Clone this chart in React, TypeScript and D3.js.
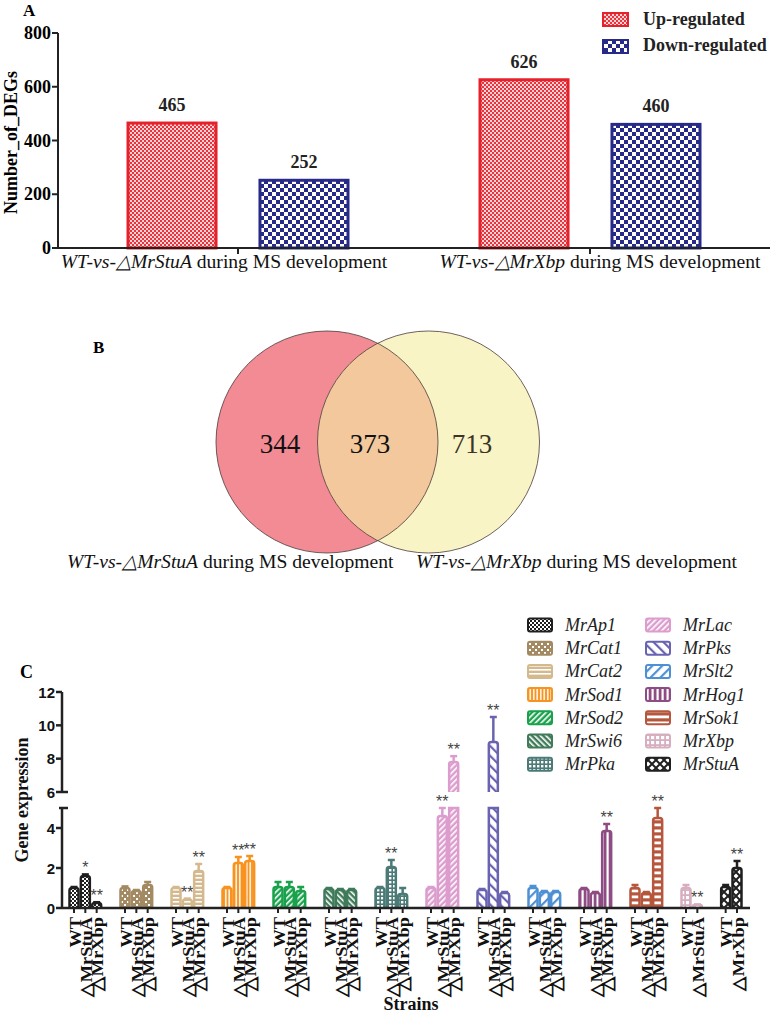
import React from 'react';
import * as d3 from 'd3';

const SERIF = '"Liberation Serif","Times New Roman",serif';
const SANS = '"Liberation Sans",Arial,sans-serif';

// ---------- Panel A data ----------
const comparisons = ['WT-vs-△MrStuA', 'WT-vs-△MrXbp'];
const comparisonSuffix = ' during MS development';
const regulation = ['Up-regulated', 'Down-regulated'];
const upRegulated = [465, 626];
const downRegulated = [252, 460];
const degTicks = [0, 200, 400, 600, 800];

// ---------- Panel B data ----------
const vennSets = ['WT-vs-△MrStuA', 'WT-vs-△MrXbp'];
const vennOnlyA = 344;
const vennBoth = 373;
const vennOnlyB = 713;

// ---------- Panel C data ----------
const genes = ['MrAp1', 'MrCat1', 'MrCat2', 'MrSod1', 'MrSod2', 'MrSwi6', 'MrPka', 'MrLac', 'MrPks', 'MrSlt2', 'MrHog1', 'MrSok1', 'MrXbp', 'MrStuA'];
const strainsPerGene = [
  ['WT', '△MrStuA', '△MrXbp'], ['WT', '△MrStuA', '△MrXbp'], ['WT', '△MrStuA', '△MrXbp'],
  ['WT', '△MrStuA', '△MrXbp'], ['WT', '△MrStuA', '△MrXbp'], ['WT', '△MrStuA', '△MrXbp'],
  ['WT', '△MrStuA', '△MrXbp'], ['WT', '△MrStuA', '△MrXbp'], ['WT', '△MrStuA', '△MrXbp'],
  ['WT', '△MrStuA', '△MrXbp'], ['WT', '△MrStuA', '△MrXbp'], ['WT', '△MrStuA', '△MrXbp'],
  ['WT', '△MrStuA'], ['WT', '△MrXbp'],
];
const means = [
  [1.0, 1.6, 0.25], [1.0, 0.85, 1.15], [1.0, 0.42, 1.85], [1.0, 2.25, 2.35],
  [1.05, 1.05, 0.85], [0.95, 0.9, 0.9], [1.0, 2.05, 0.7], [1.0, 4.6, 7.8],
  [0.9, 9.0, 0.75], [1.0, 0.8, 0.8], [0.95, 0.75, 3.85], [1.0, 0.75, 4.5],
  [1.0, 0.15], [1.05, 2.0],
];
const errors = [
  [0.05, 0.08, 0.04], [0.08, 0.05, 0.15], [0.05, 0.05, 0.35], [0.05, 0.3, 0.25],
  [0.25, 0.25, 0.2], [0.05, 0.05, 0.05], [0.05, 0.35, 0.3], [0.05, 0.4, 0.35],
  [0.05, 1.5, 0.05], [0.1, 0.05, 0.05], [0.05, 0.05, 0.35], [0.15, 0.05, 0.5],
  [0.15, 0.03], [0.1, 0.35],
];
const signif = [
  ['', '*', '**'], ['', '', ''], ['', '**', '**'], ['', '**', '**'],
  ['', '', ''], ['', '', ''], ['', '**', ''], ['', '**', '**'],
  ['', '**', ''], ['', '', ''], ['', '', '**'], ['', '', '**'],
  ['', '**'], ['', '**'],
];
const lowerTicks = [0, 2, 4];
const upperTicks = [6, 8, 10, 12];

// ---------- styles ----------
const geneColor: Record<string, string> = {
  MrAp1: '#1f1f1f', MrCat1: '#a48a63', MrCat2: '#d5b98e', MrSod1: '#f7931e',
  MrSod2: '#19a24b', MrSwi6: '#3f7b59', MrPka: '#4b7a77', MrLac: '#dc9dce',
  MrPks: '#6a63b1', MrSlt2: '#4e90d3', MrHog1: '#8d4c83', MrSok1: '#b5563d',
  MrXbp: '#d6aebf', MrStuA: '#1f1f1f',
};
const geneKind: Record<string, string> = {
  MrAp1: 'checkFine', MrCat1: 'dots', MrCat2: 'hLines', MrSod1: 'vLines',
  MrSod2: 'diagF', MrSwi6: 'diagB', MrPka: 'grid', MrLac: 'diagF',
  MrPks: 'diagBWide', MrSlt2: 'diagFWide', MrHog1: 'vWide', MrSok1: 'hWide',
  MrXbp: 'gridWide', MrStuA: 'xCross',
};

function GenePattern({ id, color, kind }: { id: string; color: string; kind: string }) {
  const W = '#ffffff';
  switch (kind) {
    case 'checkFine':
      return (<pattern id={id} width={4} height={4} patternUnits="userSpaceOnUse">
        <rect width={4} height={4} fill={color} /><rect x={0} y={0} width={2} height={2} fill={W} /><rect x={2} y={2} width={2} height={2} fill={W} /></pattern>);
    case 'dots':
      return (<pattern id={id} width={6} height={6} patternUnits="userSpaceOnUse">
        <rect width={6} height={6} fill={color} /><rect x={1} y={1} width={2} height={2} fill={W} /><rect x={4} y={4} width={2} height={2} fill={W} /></pattern>);
    case 'hLines':
      return (<pattern id={id} width={4} height={4} patternUnits="userSpaceOnUse">
        <rect width={4} height={4} fill={color} /><rect x={0} y={1} width={4} height={1.6} fill={W} /></pattern>);
    case 'vLines':
      return (<pattern id={id} width={3.5} height={4} patternUnits="userSpaceOnUse">
        <rect width={3.5} height={4} fill={color} /><rect x={1} y={0} width={1.5} height={4} fill={W} /></pattern>);
    case 'diagF':
      return (<pattern id={id} width={4} height={4} patternUnits="userSpaceOnUse" patternTransform="rotate(45)">
        <rect width={4} height={4} fill={color} /><rect x={1} y={0} width={1.6} height={4} fill={W} /></pattern>);
    case 'diagB':
      return (<pattern id={id} width={4} height={4} patternUnits="userSpaceOnUse" patternTransform="rotate(-45)">
        <rect width={4} height={4} fill={color} /><rect x={1} y={0} width={1.6} height={4} fill={W} /></pattern>);
    case 'grid':
      return (<pattern id={id} width={4} height={4} patternUnits="userSpaceOnUse">
        <rect width={4} height={4} fill={color} /><rect x={1} y={1} width={2.4} height={2.4} fill={W} /></pattern>);
    case 'diagFWide':
      return (<pattern id={id} width={7} height={7} patternUnits="userSpaceOnUse" patternTransform="rotate(45)">
        <rect width={7} height={7} fill={W} /><rect x={0} y={0} width={2.2} height={7} fill={color} /></pattern>);
    case 'diagBWide':
      return (<pattern id={id} width={7} height={7} patternUnits="userSpaceOnUse" patternTransform="rotate(-45)">
        <rect width={7} height={7} fill={W} /><rect x={0} y={0} width={2.2} height={7} fill={color} /></pattern>);
    case 'vWide':
      return (<pattern id={id} width={5} height={5} patternUnits="userSpaceOnUse">
        <rect width={5} height={5} fill={color} /><rect x={1.5} y={0} width={2.2} height={5} fill={W} /></pattern>);
    case 'hWide':
      return (<pattern id={id} width={6} height={6} patternUnits="userSpaceOnUse">
        <rect width={6} height={6} fill={color} /><rect x={0} y={1.5} width={6} height={2.8} fill={W} /></pattern>);
    case 'gridWide':
      return (<pattern id={id} width={5} height={5} patternUnits="userSpaceOnUse">
        <rect width={5} height={5} fill={color} /><rect x={1} y={1} width={3.2} height={3.2} fill={W} /></pattern>);
    case 'xCross':
      return (<pattern id={id} width={8} height={8} patternUnits="userSpaceOnUse">
        <rect width={8} height={8} fill={W} /><path d="M0,0L8,8M8,0L0,8" stroke={color} strokeWidth={2} /></pattern>);
    default:
      return null;
  }
}

function barPath(x0: number, x1: number, yTop: number, yBot: number, r: number) {
  const rr = Math.min(r, (yBot - yTop) / 2, (x1 - x0) / 2);
  return `M${x0},${yBot}V${yTop + rr}Q${x0},${yTop} ${x0 + rr},${yTop}H${x1 - rr}Q${x1},${yTop} ${x1},${yTop + rr}V${yBot}`;
}

// ---------------- Panel A ----------------
function PanelA() {
  const y = d3.scaleLinear().domain([0, 800]).range([248, 33]);
  const xGroup = d3.scaleBand<string>().domain(comparisons).range([62, 766]);
  const xSub = d3.scaleBand<string>().domain(regulation).range([-110, 110]).paddingInner(0.333);
  const axisX = 58;
  const baseY = y(0);
  const colors = ['#e5222b', '#272b87'];
  const fills = ['url(#patUp)', 'url(#patDown)'];
  const labelShift = [-14, 10];
  return (
    <g>
      <defs>
        <pattern id="patUp" width={4} height={4} patternUnits="userSpaceOnUse">
          <rect width={4} height={4} fill="#fbd3d6" />
          <rect x={0} y={0} width={2} height={2} fill="#e9343e" />
          <rect x={2} y={2} width={2} height={2} fill="#e9343e" />
        </pattern>
        <pattern id="patDown" width={8} height={8} patternUnits="userSpaceOnUse">
          <rect width={8} height={8} fill="#272b87" />
          <rect x={0} y={0} width={4} height={4} fill="#ffffff" />
          <rect x={4} y={4} width={4} height={4} fill="#ffffff" />
        </pattern>
      </defs>
      <text x={23} y={16} fontFamily={SERIF} fontWeight="bold" fontSize={17}>A</text>
      <line x1={axisX} x2={axisX} y1={y(800)} y2={baseY} stroke="#222" strokeWidth={2} />
      {degTicks.map((t) => (
        <g key={t}>
          <line x1={axisX - 6} x2={axisX} y1={y(t)} y2={y(t)} stroke="#222" strokeWidth={2} />
          <text x={axisX - 7} y={y(t)} textAnchor="end" dominantBaseline="central" fontFamily={SERIF} fontWeight="bold" fontSize={18}>{t}</text>
        </g>
      ))}
      <text transform={`translate(17,${(y(800) + baseY) / 2 + 2}) rotate(-90)`} textAnchor="middle" fontFamily={SERIF} fontWeight="bold" fontSize={18}>Number_of_DEGs</text>
      {comparisons.map((c, i) => {
        const gx = xGroup(c)! + xGroup.bandwidth() / 2;
        const vals = [upRegulated[i], downRegulated[i]];
        return (
          <g key={c}>
            {regulation.map((r, j) => {
              const x0 = gx + xSub(r)!;
              return (
                <g key={r}>
                  <rect x={x0} y={y(vals[j])} width={xSub.bandwidth()} height={baseY - y(vals[j])} fill={fills[j]} stroke={colors[j]} strokeWidth={3} />
                  <text x={x0 + xSub.bandwidth() / 2} y={y(vals[j]) - 12} textAnchor="middle" fontFamily={SERIF} fontWeight="bold" fontSize={18} fill="#222">{vals[j]}</text>
                </g>
              );
            })}
            <line x1={gx} x2={gx} y1={baseY} y2={baseY + 6} stroke="#222" strokeWidth={2} />
            <text x={gx + labelShift[i]} y={baseY + 20} textAnchor="middle" fontFamily={SERIF} fontSize={19.6} fill="#111">
              <tspan fontStyle="italic">{c}</tspan>{comparisonSuffix}
            </text>
          </g>
        );
      })}
      <line x1={axisX} x2={770} y1={baseY} y2={baseY} stroke="#222" strokeWidth={2} />
      {regulation.map((r, j) => (
        <g key={r}>
          <rect x={603} y={13 + j * 27} width={25} height={13} fill={fills[j]} stroke={colors[j]} strokeWidth={2} />
          <text x={643} y={25 + j * 26} fontFamily={SERIF} fontWeight="bold" fontSize={18} fill="#222">{r}</text>
        </g>
      ))}
    </g>
  );
}

// ---------------- Panel B ----------------
function PanelB() {
  const cy = 442;
  const r = 111;
  const cxA = 327;
  const cxB = 428.5;
  return (
    <g>
      <defs>
        <clipPath id="clipA"><circle cx={cxA} cy={cy} r={r} /></clipPath>
      </defs>
      <text x={93} y={353} fontFamily={SERIF} fontWeight="bold" fontSize={17}>B</text>
      <circle cx={cxA} cy={cy} r={r} fill="#f28b94" />
      <circle cx={cxB} cy={cy} r={r} fill="#f8f4c6" />
      <circle cx={cxB} cy={cy} r={r} fill="#f2c89c" clipPath="url(#clipA)" />
      <circle cx={cxA} cy={cy} r={r} fill="none" stroke="#4a3a3a" strokeWidth={0.8} />
      <circle cx={cxB} cy={cy} r={r} fill="none" stroke="#4a3a3a" strokeWidth={0.8} />
      <text x={280} y={453} textAnchor="middle" fontFamily={SERIF} fontSize={27} fill="#111">{vennOnlyA}</text>
      <text x={370} y={453} textAnchor="middle" fontFamily={SERIF} fontSize={27} fill="#111">{vennBoth}</text>
      <text x={472} y={453} textAnchor="middle" fontFamily={SERIF} fontSize={27} fill="#3b3428">{vennOnlyB}</text>
      <text x={67} y={568} fontFamily={SERIF} fontSize={19.6} fill="#111"><tspan fontStyle="italic">{vennSets[0]}</tspan>{comparisonSuffix}</text>
      <text x={737} y={568} textAnchor="end" fontFamily={SERIF} fontSize={19.6} fill="#111"><tspan fontStyle="italic">{vennSets[1]}</tspan>{comparisonSuffix}</text>
    </g>
  );
}

// ---------------- Panel C ----------------
function PanelC() {
  const yLow = d3.scaleLinear().domain([0, 5]).range([908, 808]);
  const yUp = d3.scaleLinear().domain([6, 12]).range([792, 692]);
  const yC = (v: number) => (v <= 5 ? yLow(v) : v >= 6 ? yUp(v) : yLow(5));

  const slots: number[][] = [];
  let s = 0;
  strainsPerGene.forEach((st) => {
    const g: number[] = [];
    st.forEach((_, k) => g.push(s + k));
    slots.push(g);
    s = g[g.length - 1] + 2.5;
  });
  const last = slots[slots.length - 1];
  const x = d3.scaleLinear().domain([0, last[last.length - 1]]).range([74, 737]);
  const bw = 9;
  const axisX = 62;
  const base = yLow(0);

  const legendLeft = genes.slice(0, 7);
  const legendRight = genes.slice(7);

  return (
    <g>
      <defs>
        {genes.map((g) => <GenePattern key={g} id={`pat-${g}`} color={geneColor[g]} kind={geneKind[g]} />)}
      </defs>
      <text x={20} y={678} fontFamily={SERIF} fontWeight="bold" fontSize={18}>C</text>
      {[legendLeft, legendRight].map((col, ci) => col.map((g, ri) => {
        const cyL = 625 + ri * 23.2;
        const sx = ci === 0 ? 528 : 646;
        return (
          <g key={g}>
            <rect x={sx} y={cyL - 6.5} width={24} height={13} rx={2} fill={`url(#pat-${g})`} stroke={geneColor[g]} strokeWidth={2} />
            <text x={sx + 37} y={cyL + 6} fontFamily={SERIF} fontStyle="italic" fontSize={18} fill="#222">{g}</text>
          </g>
        );
      }))}
      {genes.map((g, gi) => strainsPerGene[gi].map((st, k) => {
        const cx = x(slots[gi][k]);
        const v = means[gi][k];
        const e = errors[gi][k];
        const col = geneColor[g];
        const fill = `url(#pat-${g})`;
        const top = yC(v + e);
        const sig = signif[gi][k];
        return (
          <g key={`${g}-${st}`}>
            {v > 5 ? (
              <g>
                <path d={`M${cx - bw / 2},${base}V${yLow(5)}H${cx + bw / 2}V${base}`} fill={fill} stroke={col} strokeWidth={2.5} />
                <path d={barPath(cx - bw / 2, cx + bw / 2, yUp(v), yUp(6), 2.5)} fill={fill} stroke={col} strokeWidth={2.5} />
              </g>
            ) : (
              <path d={barPath(cx - bw / 2, cx + bw / 2, yC(v), base, 2.5)} fill={fill} stroke={col} strokeWidth={2.5} strokeLinejoin="round" />
            )}
            <line x1={cx} x2={cx} y1={yC(v)} y2={top} stroke={col} strokeWidth={2.5} />
            <line x1={cx - 3.5} x2={cx + 3.5} y1={top} y2={top} stroke={col} strokeWidth={2.5} />
            {sig && (
              <text x={cx} y={top - 1} textAnchor="middle" fontFamily={SANS} fontSize={16} fill="#444">{sig}</text>
            )}
            <line x1={cx} x2={cx} y1={base} y2={base + 5} stroke="#222" strokeWidth={2} />
            <text transform={`translate(${cx + 1},${base + 9}) rotate(-90) scale(1.08,1)`} textAnchor="end" dominantBaseline="central" fontFamily={SERIF} fontWeight="bold" fontSize={17} fill="#111">{st}</text>
          </g>
        );
      }))}
      <line x1={axisX} x2={750} y1={base} y2={base} stroke="#222" strokeWidth={2.5} />
      <line x1={axisX} x2={axisX} y1={yLow(5)} y2={base} stroke="#222" strokeWidth={2.5} />
      <line x1={axisX - 3} x2={axisX + 6} y1={yLow(5)} y2={yLow(5)} stroke="#222" strokeWidth={2.5} />
      <line x1={axisX} x2={axisX} y1={yUp(12)} y2={yUp(6)} stroke="#222" strokeWidth={2.5} />
      <line x1={axisX} x2={axisX + 6} y1={yUp(6)} y2={yUp(6)} stroke="#222" strokeWidth={2.5} />
      {lowerTicks.map((t) => (
        <g key={`l${t}`}>
          <line x1={axisX - 6} x2={axisX} y1={yLow(t)} y2={yLow(t)} stroke="#222" strokeWidth={2.5} />
          <text x={axisX - 7} y={yLow(t)} textAnchor="end" dominantBaseline="central" fontFamily={SANS} fontWeight="bold" fontSize={15} fill="#111">{t}</text>
        </g>
      ))}
      {upperTicks.map((t) => (
        <g key={`u${t}`}>
          <line x1={axisX - 6} x2={axisX} y1={yUp(t)} y2={yUp(t)} stroke="#222" strokeWidth={2.5} />
          <text x={axisX - 7} y={yUp(t)} textAnchor="end" dominantBaseline="central" fontFamily={SANS} fontWeight="bold" fontSize={15} fill="#111">{t}</text>
        </g>
      ))}
      <text transform={`translate(28,800) rotate(-90)`} textAnchor="middle" fontFamily={SERIF} fontWeight="bold" fontSize={18} fill="#111">Gene expression</text>
      <text x={411} y={1010} textAnchor="middle" fontFamily={SERIF} fontWeight="bold" fontSize={18} fill="#111">Strains</text>
    </g>
  );
}

export default function App() {
  return (
    <svg width={771} height={1015} viewBox="0 0 771 1015" style={{ position: 'absolute', left: 0, top: 0, background: '#fff' }}>
      <rect width={771} height={1015} fill="#fff" />
      <PanelA />
      <PanelB />
      <PanelC />
    </svg>
  );
}
